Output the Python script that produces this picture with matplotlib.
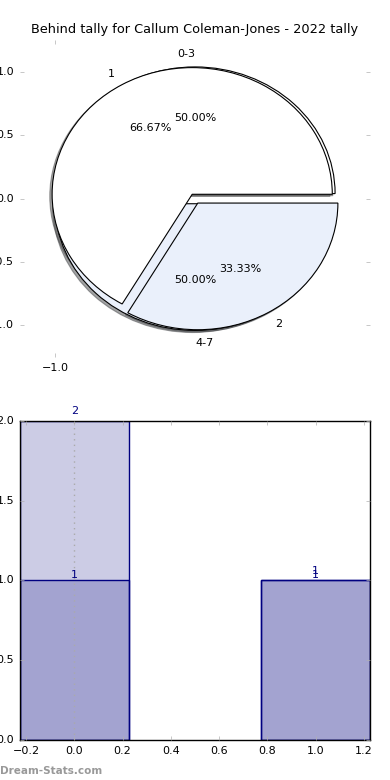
import matplotlib
matplotlib.use("Agg")
import matplotlib.pyplot as plt
from matplotlib.ticker import FuncFormatter

# pie data (two overlaid pies)
range_labels = ["0-3", "4-7"]
range_counts = [1, 1]
tally_labels = ["1", "2"]
tally_counts = [2, 1]
pie_colors = ["white", "#eaf0fb"]

# bar data
bar_pos = [0, 1]
total_counts = [2, 1]
sub_counts = [1, 1]

plt.style.use("classic")
plt.rcParams.update({
    "font.family": "DejaVu Sans",
    "font.size": 8,
    "xtick.color": "#b0b0b0",
    "ytick.color": "#b0b0b0",
    "xtick.labelcolor": "black",
    "ytick.labelcolor": "black",
    "xtick.major.size": 3,
    "ytick.major.size": 3,
})


def one_decimal(v, pos):
    return f"{v:.1f}".replace("-", "\u2212")


fig = plt.figure(figsize=(3.9, 7.8), dpi=100)
fig.patch.set_facecolor("white")

# ---- pie ----
ax1 = fig.add_axes([0.051, 0.5423, 0.898, 0.406])
for labels, counts in [(range_labels, range_counts), (tally_labels, tally_counts)]:
    ax1.pie(
        counts,
        labels=labels,
        colors=pie_colors,
        autopct="%1.2f%%",
        explode=[0.04] * len(counts),
        shadow={"ox": -0.012, "oy": -0.012},
        wedgeprops={"linewidth": 0.8, "edgecolor": "black"},
        textprops={"fontsize": 8},
    )
ax1.set_aspect("auto")
ax1.set_xlim(-1.25, 1.25)
ax1.set_ylim(-1.25, 1.25)
ax1.set_frame_on(False)
ax1.set_xticks([-1.0])
ax1.set_yticks([-1.0, -0.5, 0.0, 0.5, 1.0])
ax1.xaxis.set_major_formatter(FuncFormatter(one_decimal))
ax1.yaxis.set_major_formatter(FuncFormatter(one_decimal))
ax1.tick_params(labelsize=8)
ax1.set_title("Behind tally for Callum Coleman-Jones - 2022 tally", fontsize=9.3)

# ---- bars ----
ax2 = fig.add_axes([0.051, 0.0513, 0.898, 0.409])
bar_fill = (0.0, 0.0, 0.5, 0.2)
ax2.bar(bar_pos, total_counts, width=0.45, align="center",
        color=bar_fill, edgecolor="navy", linewidth=1)
ax2.bar(bar_pos, sub_counts, width=0.45, align="center",
        color=bar_fill, edgecolor="navy", linewidth=1)
for x, h in zip(bar_pos, total_counts):
    ax2.text(x, h + 0.03, str(h), ha="center", va="bottom", color="navy", fontsize=8)
for x, h in zip(bar_pos, sub_counts):
    ax2.text(x, h, str(h), ha="center", va="bottom", color="navy", fontsize=8)
ax2.axvline(0, color="#aaaaaa", linestyle=":", linewidth=1)
ax2.set_xlim(-0.225, 1.225)
ax2.set_ylim(0, 2)
ax2.set_xticks([-0.2, 0.0, 0.2, 0.4, 0.6, 0.8, 1.0, 1.2])
ax2.set_yticks([0.0, 0.5, 1.0, 1.5, 2.0])
ax2.tick_params(labelsize=8)

fig.text(0.0, 0.005, "Dream-Stats.com", color="#999999", fontsize=7.5,
         fontweight="bold", ha="left", va="bottom")

fig.savefig("out.png", dpi=100, facecolor="white")
